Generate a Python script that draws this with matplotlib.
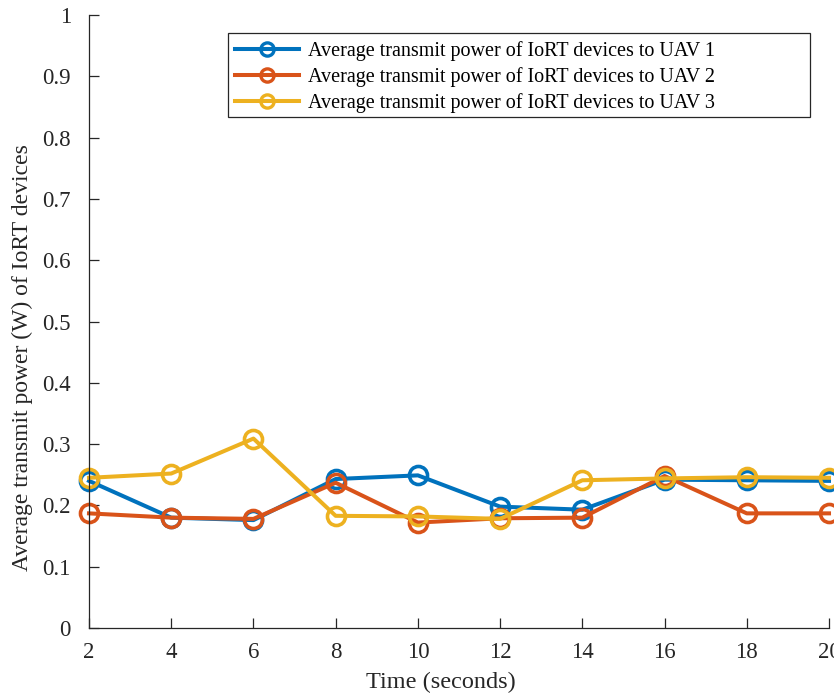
import matplotlib
matplotlib.use("Agg")
import matplotlib.pyplot as plt
from matplotlib.patches import Rectangle

time_s = [2, 4, 6, 8, 10, 12, 14, 16, 18, 20]
uav1 = [0.240, 0.180, 0.176, 0.243, 0.249, 0.198, 0.193, 0.242, 0.241, 0.240]
uav2 = [0.187, 0.180, 0.178, 0.237, 0.172, 0.179, 0.180, 0.248, 0.187, 0.187]
uav3 = [0.245, 0.252, 0.309, 0.183, 0.182, 0.178, 0.241, 0.244, 0.246, 0.245]
labels = ["Average transmit power of IoRT devices to UAV 1",
          "Average transmit power of IoRT devices to UAV 2",
          "Average transmit power of IoRT devices to UAV 3"]
colors = ["#0072BD", "#D95319", "#EDB120"]
yticks = [0, 0.1, 0.2, 0.3, 0.4, 0.5, 0.6, 0.7, 0.8, 0.9, 1]
ytick_labels = ["0", "0.1", "0.2", "0.3", "0.4", "0.5", "0.6", "0.7", "0.8", "0.9", "1"]
xticks = [2, 4, 6, 8, 10, 12, 14, 16, 18, 20]

plt.rcParams['font.family'] = ['Liberation Serif', 'DejaVu Serif']

W, H = 834, 697
fig = plt.figure(figsize=(W / 100, H / 100), dpi=100)
ax = fig.add_axes([89 / W, 69 / H, 740 / W, 613 / H])

for ys, c, lab in zip([uav1, uav2, uav3], colors, labels):
    ax.plot(time_s, ys, color=c, lw=2.9, marker='o', ms=13, mfc='none',
            mec=c, mew=2.6, label=lab, clip_on=False)

ax.set_xlim(2, 20)
ax.set_ylim(0, 1)
ax.set_xticks(xticks)
ax.set_xticklabels([str(x) for x in xticks])
ax.set_yticks(yticks)
ax.set_yticklabels(ytick_labels)
for s in ['top', 'right']:
    ax.spines[s].set_visible(False)
for s in ['left', 'bottom']:
    ax.spines[s].set_color('#262626')
    ax.spines[s].set_linewidth(0.9)
ax.tick_params(direction='in', length=7, width=0.9, colors='#262626',
               labelsize=16.5, labelcolor='#262626')
ax.tick_params(axis='x', pad=10)
ax.tick_params(axis='y', pad=13)
ax.set_xlabel("Time (seconds)", fontsize=17.5, color='#262626')
ax.set_ylabel("Average transmit power (W) of IoRT devices", fontsize=17,
              color='#262626')
ax.xaxis.set_label_coords((441 - 89) / 740, -(682 - 628) / 613)
ax.yaxis.set_label_coords(-(89 - 22) / 740, (628 - 358) / 613)
ax.xaxis.label.set_va('center')
ax.yaxis.label.set_va('center')

ax.add_patch(Rectangle((228 / W, (H - 117) / H), (810 - 228) / W,
                       (117 - 33) / H, transform=fig.transFigure,
                       facecolor='white', edgecolor='#262626', lw=0.9,
                       zorder=4, clip_on=False))
leg = ax.legend(loc='upper left', bbox_to_anchor=(235 / W, (H - 41) / H),
                bbox_transform=fig.transFigure, fontsize=14.5, frameon=False,
                handlelength=3.2, borderpad=0, labelspacing=0.3,
                handletextpad=0.4, borderaxespad=0)
for h in leg.legend_handles:
    h.set_markersize(9.5)
    h.set_markeredgewidth(2.4)
leg.set_zorder(5)

fig.savefig("out.png", dpi=100)
